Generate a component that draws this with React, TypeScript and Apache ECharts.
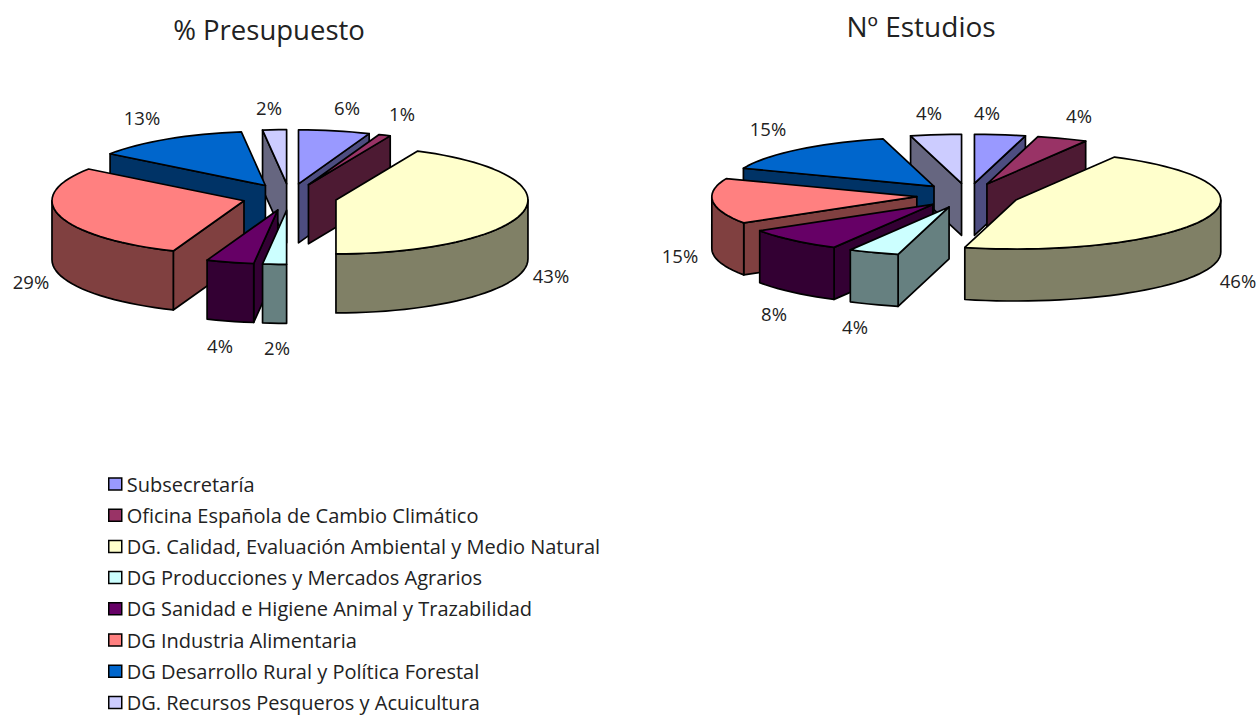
import React, { useEffect, useRef } from "react";
import * as echarts from "echarts";

const categories = [
  "Subsecretaría",
  "Oficina Española de Cambio Climático",
  "DG. Calidad, Evaluación Ambiental y Medio Natural",
  "DG Producciones y Mercados Agrarios",
  "DG Sanidad e Higiene Animal y Trazabilidad",
  "DG Industria Alimentaria",
  "DG Desarrollo Rural y Política Forestal",
  "DG. Recursos Pesqueros y Acuicultura",
];
const presupuesto = [6, 1, 43, 2, 4, 29, 13, 2];
const estudios = [4, 4, 46, 4, 8, 15, 15, 4];
const topColors = ["#9999FF", "#993366", "#FFFFCC", "#CCFFFF", "#660066", "#FF8080", "#0066CC", "#CCCCFF"];
const wallColors = ["#4D4D80", "#4D1A33", "#808066", "#668080", "#330033", "#804040", "#003366", "#666680"];

const leftPie = { cx: 289.6, cy: 197, rx: 192, ry: 54, depth: 59, explode: 47.5 };
const rightPie = { cx: 968, cy: 195.5, rx: 205, ry: 49, depth: 52, explode: 51.4 };
const leftLabelPos = [[347, 107.5], [402, 113.5], [551, 275.5], [277, 347.5], [220, 345.5], [31, 281.5], [142, 117.5], [269, 107.5]];
const rightLabelPos = [[987, 112.5], [1079, 115.5], [1238, 280.5], [855, 326.5], [774, 313.5], [680, 255.5], [768, 128.5], [929, 112.5]];

const FONT = "'Open Sans', sans-serif";
const rad = (d: number) => (d * Math.PI) / 180;

function sliceSeries(values: number[], pie: typeof leftPie) {
  const total = values.reduce((a, b) => a + b, 0);
  let acc = 0;
  const slices = values.map((v, i) => {
    const a0 = (acc / total) * 360;
    acc += v;
    const a1 = (acc / total) * 360;
    return { i, v, a0, a1, mid: (a0 + a1) / 2 };
  });
  slices.sort((p, q) => Math.cos(rad(q.mid)) - Math.cos(rad(p.mid)));
  return slices.map((s) => ({
    type: "custom",
    name: categories[s.i],
    coordinateSystem: "none",
    silent: true,
    itemStyle: { color: topColors[s.i] },
    data: [[s.v]],
    renderItem: () => {
      const ax = pie.cx + pie.explode * Math.sin(rad(s.mid));
      const ay = pie.cy - pie.explode * Math.cos(rad(s.mid)) * (pie.ry / pie.rx);
      const rim = (a: number, dy = 0) => [
        ax + pie.rx * Math.sin(rad(a)),
        ay - pie.ry * Math.cos(rad(a)) + dy,
      ];
      const arc = (from: number, to: number, dy = 0) => {
        const pts: number[][] = [];
        const n = Math.max(1, Math.ceil((to - from) / 3));
        for (let k = 0; k <= n; k++) pts.push(rim(from + ((to - from) * k) / n, dy));
        return pts;
      };
      const line = { stroke: "#000", lineWidth: 1.7, lineJoin: "round" };
      const poly = (points: number[][], fill: string) => ({
        type: "polygon",
        shape: { points },
        style: { fill, ...line },
      });
      const wall = wallColors[s.i];
      const children: any[] = [];
      const cut = (a: number) =>
        poly([[ax, ay], rim(a), rim(a, pie.depth), [ax, ay + pie.depth]], wall);
      if (s.a0 > 180) children.push(cut(s.a0));
      if (s.a1 < 180) children.push(cut(s.a1));
      const f = Math.max(s.a0, 90);
      const t = Math.min(s.a1, 270);
      if (t > f) {
        children.push(poly([...arc(f, t), ...arc(f, t, pie.depth).reverse()], wall));
      }
      children.push(poly([[ax, ay], ...arc(s.a0, s.a1)], topColors[s.i]));
      return { type: "group", children };
    },
  }));
}

function labelTexts(values: number[], pos: number[][]) {
  return values.map((v, i) => ({
    type: "text",
    x: pos[i][0],
    y: pos[i][1],
    style: {
      text: `${v}%`,
      fontFamily: FONT,
      fontSize: 18.5,
      fill: "#222",
      align: "center",
      verticalAlign: "middle",
    },
  }));
}

export default function App() {
  const ref = useRef<HTMLDivElement>(null);
  useEffect(() => {
    const chart = echarts.init(ref.current!, undefined, { renderer: "svg" });
    chart.setOption({
      animation: false,
      backgroundColor: "#fff",
      title: [
        {
          text: "% Presupuesto",
          left: 264,
          top: 10,
          textAlign: "center",
          textStyle: { fontFamily: FONT, fontSize: 27.5, fontWeight: "normal", color: "#222" },
        },
        {
          text: "Nº Estudios",
          left: 916,
          top: 7,
          textAlign: "center",
          textStyle: { fontFamily: FONT, fontSize: 28, fontWeight: "normal", color: "#222" },
        },
      ],
      legend: {
        data: categories,
        orient: "vertical",
        left: 108,
        top: 474,
        height: 260,
        padding: 0,
        itemWidth: 13,
        itemHeight: 12,
        itemGap: 11.2,
        selectedMode: false,
        icon: "rect",
        itemStyle: { borderColor: "#000", borderWidth: 1.5 },
        textStyle: { fontFamily: FONT, fontSize: 20, color: "#222" },
      },
      graphic: [...labelTexts(presupuesto, leftLabelPos), ...labelTexts(estudios, rightLabelPos)],
      series: [...sliceSeries(presupuesto, leftPie), ...sliceSeries(estudios, rightPie)],
    });
    return () => chart.dispose();
  }, []);
  return <div ref={ref} style={{ position: "fixed", left: 0, top: 0, width: 1259, height: 715 }} />;
}
